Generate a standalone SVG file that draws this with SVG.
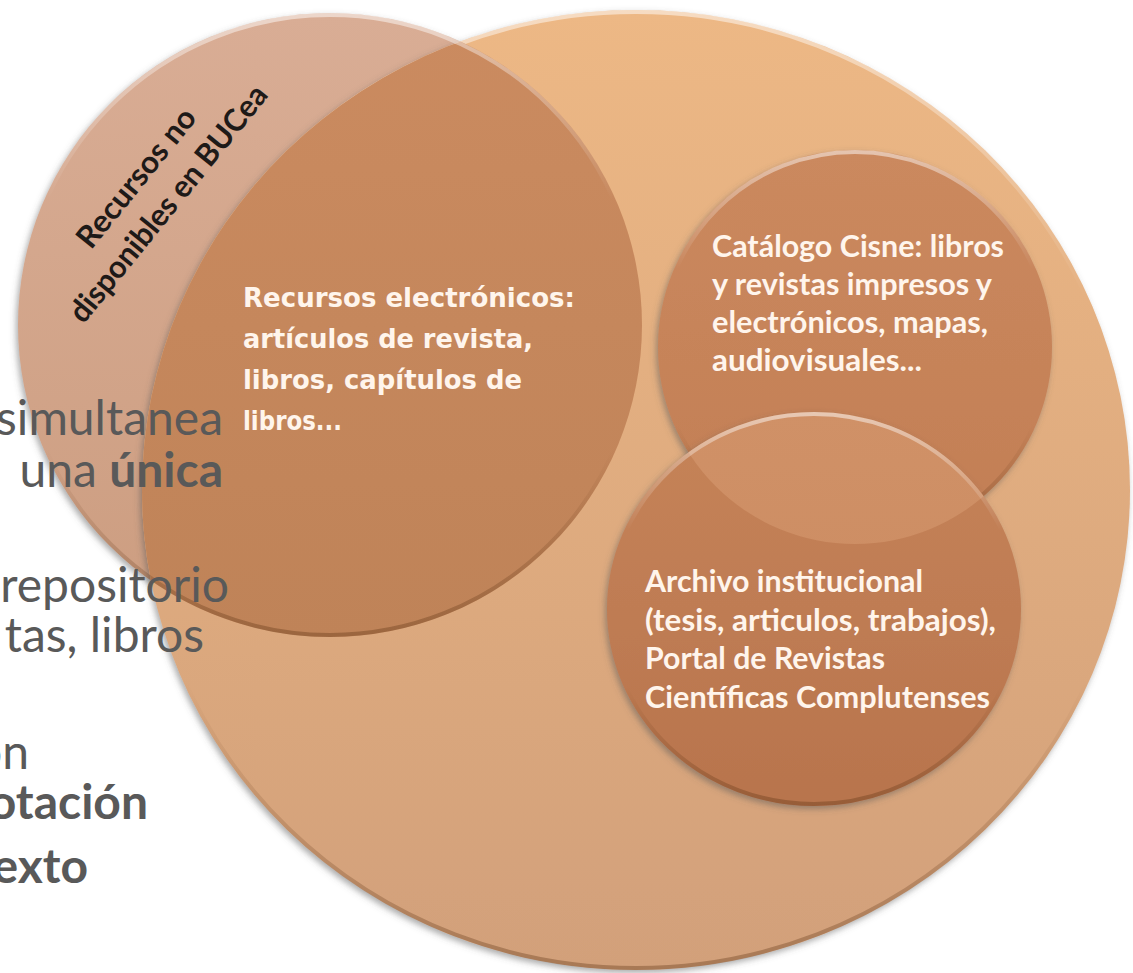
<svg xmlns="http://www.w3.org/2000/svg" width="1133" height="973" viewBox="0 0 1133 973">
<defs>
<style>
.slide{font-family:Lato,"Open Sans","Liberation Sans",sans-serif;font-size:48px;fill:#595959}
.b{font-weight:700}
.lbl{font-family:Lato,"Liberation Sans",sans-serif;font-weight:700;font-size:30px;fill:#FFF5EC}
.lbl2{font-family:"DejaVu Sans",Verdana,sans-serif;font-weight:700;font-size:26px;fill:#FFF5EC}
.dark{font-family:Lato,"Liberation Sans",sans-serif;font-weight:700;font-size:31px;fill:#1E1A18}
.rim{fill:none;stroke:url(#rim);stroke-width:4}
</style>
<linearGradient id="gLarge" x1="0" y1="0" x2="0" y2="1"><stop offset="0" stop-color="#EDB885"/><stop offset="1" stop-color="#D2A07A"/></linearGradient>
<linearGradient id="gPink" x1="0" y1="0" x2="0" y2="1"><stop offset="0" stop-color="#D9AD95"/><stop offset="1" stop-color="#CC9D80"/></linearGradient>
<linearGradient id="gDark" x1="0" y1="0" x2="0" y2="1"><stop offset="0" stop-color="#CB8B60"/><stop offset="1" stop-color="#BF8358"/></linearGradient>
<linearGradient id="gCisne" x1="0" y1="0" x2="0" y2="1"><stop offset="0" stop-color="#CB895E"/><stop offset="1" stop-color="#C27E55"/></linearGradient>
<linearGradient id="gArch" x1="0" y1="0" x2="0" y2="1"><stop offset="0" stop-color="#C68459"/><stop offset="1" stop-color="#B8744D"/></linearGradient>
<linearGradient id="gLens" x1="0" y1="0" x2="0" y2="1"><stop offset="0" stop-color="#D09167"/><stop offset="1" stop-color="#C9895F"/></linearGradient>
<linearGradient id="rim" x1="0" y1="0" x2="0" y2="1"><stop offset="0" stop-color="#FFFFFF" stop-opacity="0.5"/><stop offset="0.3" stop-color="#FFFFFF" stop-opacity="0"/><stop offset="0.7" stop-color="#5A3010" stop-opacity="0"/><stop offset="1" stop-color="#5A3010" stop-opacity="0.35"/></linearGradient>
<clipPath id="clipLarge"><ellipse cx="636" cy="490" rx="494" ry="480"/></clipPath>
<clipPath id="clipCisne"><circle cx="855" cy="347" r="197"/></clipPath>
<filter id="shadow" x="-10%" y="-10%" width="120%" height="120%"><feDropShadow dx="-2" dy="3" stdDeviation="3" flood-color="#555555" flood-opacity="0.5"/></filter>
</defs>
<rect width="1133" height="973" fill="#FFFFFF"/>
<g id="node-no-disponibles">
<circle cx="330" cy="325" r="312" fill="url(#gPink)" filter="url(#shadow)"/>
</g>
<g id="node-bucea">
<ellipse cx="636" cy="490" rx="494" ry="480" fill="url(#gLarge)" filter="url(#shadow)"/>
<ellipse class="rim" cx="636" cy="490" rx="492" ry="478"/>
</g>
<g id="node-recursos-electronicos">
<circle cx="330" cy="325" r="312" fill="url(#gDark)" clip-path="url(#clipLarge)"/>
<circle class="rim" cx="330" cy="325" r="310"/>
<text class="lbl2" x="243" y="307" textLength="332" lengthAdjust="spacingAndGlyphs">Recursos electrónicos:</text>
<text class="lbl2" x="243" y="348" textLength="290" lengthAdjust="spacingAndGlyphs">artículos de revista,</text>
<text class="lbl2" x="243" y="389" textLength="279" lengthAdjust="spacingAndGlyphs">libros, capítulos de</text>
<text class="lbl2" x="243" y="430" textLength="99" lengthAdjust="spacingAndGlyphs">libros...</text>
</g>
<g id="label-no-disponibles" transform="translate(160,197) rotate(-51)">
<text class="dark" text-anchor="middle" x="0" y="-20" textLength="170" lengthAdjust="spacingAndGlyphs">Recursos no</text>
<text class="dark" text-anchor="middle" x="0" y="21" textLength="295" lengthAdjust="spacingAndGlyphs">disponibles en BUCea</text>
</g>
<g id="node-cisne">
<circle cx="855" cy="347" r="197" fill="url(#gCisne)" filter="url(#shadow)"/>
<circle class="rim" cx="855" cy="347" r="195"/>
</g>
<g id="node-archivo">
<ellipse cx="814" cy="609" rx="207" ry="197" fill="url(#gArch)" filter="url(#shadow)"/>
<ellipse cx="814" cy="609" rx="207" ry="197" fill="url(#gLens)" clip-path="url(#clipCisne)"/>
<ellipse class="rim" cx="814" cy="609" rx="205" ry="195"/>
</g>
<g id="text-cisne">
<text class="lbl" x="712" y="257" textLength="292" lengthAdjust="spacingAndGlyphs">Catálogo Cisne: libros</text>
<text class="lbl" x="712" y="295" textLength="280" lengthAdjust="spacingAndGlyphs">y revistas impresos y</text>
<text class="lbl" x="712" y="333" textLength="276" lengthAdjust="spacingAndGlyphs">electrónicos, mapas,</text>
<text class="lbl" x="712" y="371" textLength="210" lengthAdjust="spacingAndGlyphs">audiovisuales...</text>
</g>
<g id="text-archivo">
<text class="lbl" x="645" y="592" textLength="278" lengthAdjust="spacingAndGlyphs">Archivo institucional</text>
<text class="lbl" x="645" y="631" textLength="351" lengthAdjust="spacingAndGlyphs">(tesis, articulos, trabajos),</text>
<text class="lbl" x="645" y="669" textLength="240" lengthAdjust="spacingAndGlyphs">Portal de Revistas</text>
<text class="lbl" x="645" y="708" textLength="345" lengthAdjust="spacingAndGlyphs">Científicas Complutenses</text>
</g>
<g id="slide-text" text-anchor="end">
<text class="slide" x="223" y="435">simultanea</text>
<text class="slide" x="223" y="487">una <tspan class="b">única</tspan></text>
<text class="slide" x="229" y="602">repositorio</text>
<text class="slide" x="204" y="652">tas, libros</text>
<text class="slide" x="29" y="769">on</text>
<text class="slide b" x="148" y="819">otación</text>
<text class="slide b" x="88" y="883">exto</text>
</g>
</svg>
